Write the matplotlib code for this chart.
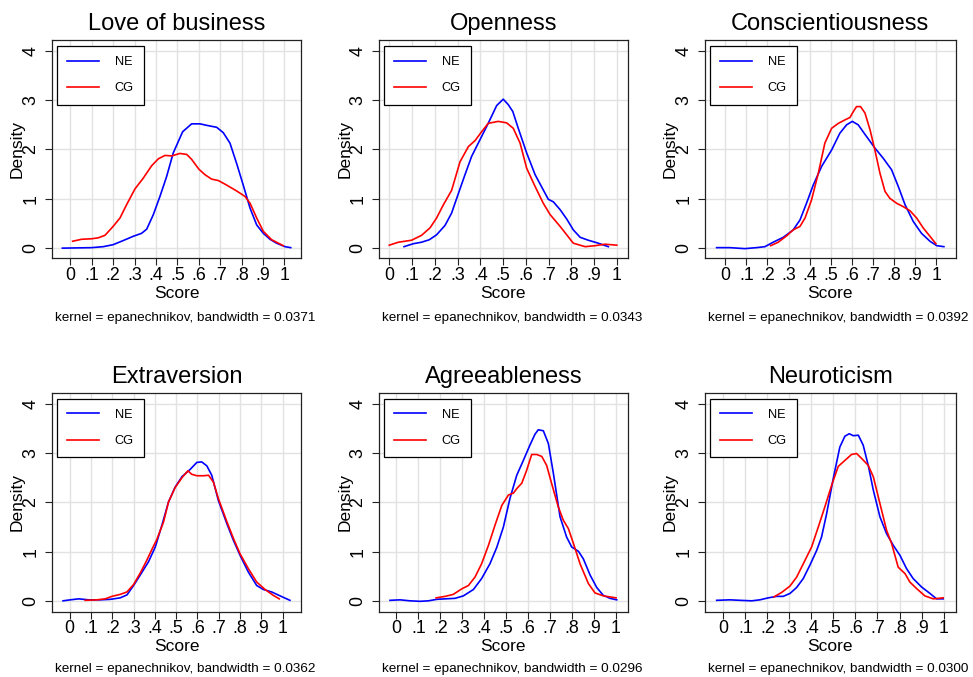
import matplotlib
matplotlib.use("Agg")
import matplotlib.pyplot as plt

plt.rcParams['font.family'] = ['Liberation Sans', 'DejaVu Sans']

# ---- data: kernel density estimates of scores by group ----
titles = ["Love of business", "Openness", "Conscientiousness",
          "Extraversion", "Agreeableness", "Neuroticism"]
bandwidths = ["0.0371", "0.0343", "0.0392", "0.0362", "0.0296", "0.0300"]
groups = ["NE", "CG"]
x_tick_values = [0, .1, .2, .3, .4, .5, .6, .7, .8, .9, 1]
x_tick_labels = ["0", ".1", ".2", ".3", ".4", ".5", ".6", ".7", ".8", ".9", "1"]
y_tick_values = [0, 1, 2, 3, 4]

love_ne_x = [-0.037, 0.1, 0.154, 0.2, 0.248, 0.294, 0.333, 0.357, 0.388, 0.419, 0.45, 0.481,
             0.525, 0.567, 0.606, 0.637, 0.684, 0.715, 0.746, 0.777, 0.808, 0.84, 0.871,
             0.902, 0.933, 0.964, 1.003, 1.03]
love_ne_y = [0.0, 0.01, 0.03, 0.07, 0.155, 0.24, 0.30, 0.385, 0.68, 1.05, 1.45, 1.93,
             2.36, 2.52, 2.52, 2.49, 2.45, 2.34, 2.13, 1.72, 1.28, 0.81, 0.47,
             0.30, 0.18, 0.10, 0.03, 0.01]
love_cg_x = [0.011, 0.053, 0.1, 0.131, 0.162, 0.2, 0.232, 0.263, 0.302, 0.341, 0.38, 0.411,
             0.442, 0.474, 0.512, 0.544, 0.567, 0.601, 0.629, 0.66, 0.692, 0.73, 0.777,
             0.816, 0.84, 0.871, 0.902, 0.941, 0.995]
love_cg_y = [0.14, 0.18, 0.19, 0.21, 0.26, 0.44, 0.61, 0.88, 1.2, 1.42, 1.67, 1.81,
             1.88, 1.87, 1.92, 1.90, 1.80, 1.60, 1.49, 1.40, 1.37, 1.28, 1.16,
             1.05, 0.91, 0.61, 0.34, 0.17, 0.05]

open_ne_x = [0.065, 0.106, 0.142, 0.176, 0.208, 0.245, 0.274, 0.304, 0.333, 0.362, 0.399,
             0.435, 0.472, 0.501, 0.523, 0.543, 0.567, 0.604, 0.641, 0.677, 0.699, 0.721,
             0.751, 0.78, 0.809, 0.839, 0.875, 0.912, 0.963]
open_ne_y = [0.03, 0.09, 0.12, 0.17, 0.27, 0.46, 0.71, 1.11, 1.49, 1.86, 2.2,
             2.53, 2.89, 3.02, 2.91, 2.77, 2.43, 1.93, 1.49, 1.18, 0.99, 0.94,
             0.78, 0.59, 0.37, 0.22, 0.16, 0.11, 0.03]
open_cg_x = [0.0, 0.04, 0.098, 0.142, 0.179, 0.208, 0.238, 0.274, 0.311, 0.348, 0.377,
             0.406, 0.435, 0.479, 0.516, 0.545, 0.575, 0.604, 0.641, 0.677, 0.707, 0.751,
             0.78, 0.809, 0.861, 0.905, 0.949, 1.0]
open_cg_y = [0.06, 0.12, 0.16, 0.26, 0.41, 0.61, 0.88, 1.17, 1.75, 2.06, 2.18,
             2.36, 2.53, 2.57, 2.54, 2.43, 2.13, 1.62, 1.25, 0.91, 0.68, 0.44,
             0.27, 0.10, 0.03, 0.05, 0.08, 0.06]

consc_ne_x = [-0.041, 0.022, 0.093, 0.148, 0.188, 0.227, 0.275, 0.322, 0.354, 0.385, 0.417,
              0.457, 0.504, 0.543, 0.575, 0.602, 0.63, 0.67, 0.709, 0.749, 0.788, 0.82,
              0.852, 0.891, 0.93, 0.97, 1.002, 1.036]
consc_ne_y = [0.01, 0.01, -0.01, 0.01, 0.03, 0.12, 0.22, 0.37, 0.57, 0.91, 1.28,
              1.66, 1.99, 2.33, 2.5, 2.57, 2.5, 2.26, 2.03, 1.82, 1.59, 1.25,
              0.88, 0.54, 0.30, 0.14, 0.05, 0.03]
consc_cg_x = [0.215, 0.251, 0.291, 0.322, 0.354, 0.378, 0.409, 0.441, 0.472, 0.504, 0.536,
              0.567, 0.591, 0.607, 0.622, 0.641, 0.662, 0.686, 0.709, 0.733, 0.757, 0.78,
              0.812, 0.844, 0.875, 0.907, 0.938, 0.97, 0.998]
consc_cg_y = [0.05, 0.12, 0.25, 0.37, 0.44, 0.61, 0.98, 1.52, 2.13, 2.43, 2.53,
              2.6, 2.65, 2.77, 2.87, 2.87, 2.74, 2.4, 1.99, 1.52, 1.15, 1.01,
              0.91, 0.84, 0.76, 0.61, 0.41, 0.24, 0.09]

extra_ne_x = [-0.031, 0.003, 0.042, 0.089, 0.144, 0.191, 0.237, 0.269, 0.3, 0.331, 0.37,
              0.402, 0.433, 0.464, 0.495, 0.527, 0.566, 0.597, 0.62, 0.644, 0.667, 0.698,
              0.738, 0.769, 0.8, 0.839, 0.878, 0.909, 0.948, 0.988, 1.034]
extra_ne_y = [0.01, 0.03, 0.05, 0.03, 0.03, 0.04, 0.07, 0.13, 0.32, 0.53, 0.8,
              1.1, 1.54, 2.01, 2.31, 2.52, 2.67, 2.81, 2.82, 2.74, 2.55, 2.04,
              1.57, 1.23, 0.93, 0.59, 0.32, 0.24, 0.19, 0.11, 0.02]
extra_cg_x = [0.073, 0.128, 0.167, 0.198, 0.237, 0.269, 0.3, 0.331, 0.362, 0.386, 0.409,
              0.441, 0.464, 0.495, 0.527, 0.555, 0.573, 0.597, 0.628, 0.652, 0.675, 0.698,
              0.738, 0.769, 0.8, 0.839, 0.878, 0.917, 0.956, 0.984]
extra_cg_y = [0.02, 0.03, 0.05, 0.1, 0.14, 0.19, 0.34, 0.57, 0.83, 1.05, 1.25,
              1.61, 2.01, 2.3, 2.5, 2.64, 2.57, 2.54, 2.54, 2.55, 2.41, 2.08,
              1.61, 1.27, 0.96, 0.66, 0.39, 0.24, 0.12, 0.05]

agree_ne_x = [-0.029, 0.017, 0.062, 0.108, 0.146, 0.184, 0.222, 0.267, 0.305, 0.351, 0.388,
              0.426, 0.457, 0.487, 0.517, 0.548, 0.578, 0.608, 0.631, 0.646, 0.669, 0.692,
              0.715, 0.745, 0.775, 0.798, 0.829, 0.851, 0.882, 0.912, 0.942, 0.973, 1.003]
agree_ne_y = [0.02, 0.03, 0.01, 0.0, 0.01, 0.04, 0.05, 0.06, 0.11, 0.24, 0.46,
              0.76, 1.09, 1.5, 2.08, 2.55, 2.85, 3.16, 3.38, 3.47, 3.45, 3.19,
              2.58, 1.71, 1.30, 1.1, 1.01, 0.86, 0.53, 0.28, 0.12, 0.06, 0.03]
agree_cg_x = [0.181, 0.222, 0.259, 0.297, 0.328, 0.358, 0.388, 0.419, 0.449, 0.48, 0.51,
              0.533, 0.548, 0.571, 0.593, 0.616, 0.639, 0.662, 0.684, 0.707, 0.737, 0.76,
              0.783, 0.806, 0.836, 0.874, 0.904, 0.942, 1.0]
agree_cg_y = [0.07, 0.1, 0.14, 0.25, 0.32, 0.49, 0.76, 1.13, 1.54, 1.94, 2.15,
              2.19, 2.28, 2.39, 2.65, 2.97, 2.97, 2.93, 2.75, 2.38, 1.91, 1.64,
              1.47, 1.17, 0.76, 0.36, 0.17, 0.11, 0.07]

neuro_ne_x = [-0.03, 0.03, 0.076, 0.129, 0.166, 0.204, 0.242, 0.272, 0.303, 0.333, 0.363,
              0.393, 0.424, 0.446, 0.469, 0.499, 0.529, 0.552, 0.572, 0.59, 0.613, 0.635,
              0.658, 0.681, 0.711, 0.741, 0.772, 0.802, 0.832, 0.862, 0.9, 0.938, 0.968, 0.998]
neuro_ne_y = [0.02, 0.03, 0.02, 0.01, 0.03, 0.07, 0.1, 0.1, 0.16, 0.28, 0.46,
              0.73, 1.03, 1.3, 1.77, 2.48, 3.12, 3.34, 3.39, 3.35, 3.36, 3.16,
              2.75, 2.25, 1.71, 1.37, 1.13, 0.93, 0.66, 0.46, 0.29, 0.16, 0.05, 0.05]
neuro_cg_x = [0.23, 0.265, 0.303, 0.333, 0.371, 0.401, 0.431, 0.461, 0.492, 0.522, 0.552,
              0.582, 0.605, 0.628, 0.658, 0.681, 0.711, 0.741, 0.764, 0.794, 0.825, 0.847,
              0.877, 0.915, 0.953, 0.998]
neuro_cg_y = [0.09, 0.18, 0.31, 0.49, 0.83, 1.1, 1.5, 1.91, 2.35, 2.73, 2.85,
              2.97, 2.99, 2.89, 2.75, 2.52, 1.98, 1.44, 1.17, 0.69, 0.56, 0.39,
              0.26, 0.11, 0.05, 0.07]

curves = [
    ((love_ne_x, love_ne_y), (love_cg_x, love_cg_y)),
    ((open_ne_x, open_ne_y), (open_cg_x, open_cg_y)),
    ((consc_ne_x, consc_ne_y), (consc_cg_x, consc_cg_y)),
    ((extra_ne_x, extra_ne_y), (extra_cg_x, extra_cg_y)),
    ((agree_ne_x, agree_ne_y), (agree_cg_x, agree_cg_y)),
    ((neuro_ne_x, neuro_ne_y), (neuro_cg_x, neuro_cg_y)),
]
x_limits = [(-0.0855, 1.078), (-0.045, 1.048), (-0.096, 1.092),
            (-0.083, 1.086), (-0.079, 1.053), (-0.083, 1.055)]

# ---- layout (pixel boxes of each plot region) ----
W, H = 973, 677
col_px = [(52, 301), (379, 627.7), (705, 955.7)]
row_px = [(40, 258.5), (392.7, 611.7)]
note_drop_px = [63, 60]          # note baseline below the plot region, per row
line_colors = ["#0000ff", "#ff0000"]
grid_color = "#e2e2e2"

fig = plt.figure(figsize=(W / 100, H / 100), dpi=100)
fig.patch.set_facecolor("white")

for i in range(6):
    r, c = divmod(i, 3)
    l, rt = col_px[c]
    t, b = row_px[r]
    ax = fig.add_axes([l / W, 1 - b / H, (rt - l) / W, (b - t) / H])
    ax.set_xlim(*x_limits[i])
    ax.set_ylim(-0.21, 4.22)

    ax.set_xticks(x_tick_values)
    ax.set_xticklabels(x_tick_labels)
    ax.set_yticks(y_tick_values)
    ax.set_yticklabels([str(v) for v in y_tick_values], rotation=90, va="center")
    ax.tick_params(axis="both", direction="out", length=5, width=0.8,
                   color="#222222", labelsize=12.8, labelcolor="black")
    ax.tick_params(axis="x", pad=1.0)
    ax.tick_params(axis="y", pad=4.2)
    ax.grid(True, color=grid_color, linewidth=1.0)
    ax.set_axisbelow(True)
    for sp in ax.spines.values():
        sp.set_color("#222222")
        sp.set_linewidth(0.9)

    handles = []
    for g, (xs, ys), col in zip(groups, curves[i], line_colors):
        h, = ax.plot(xs, ys, color=col, linewidth=1.2, label=g,
                     solid_joinstyle="round")
        handles.append(h)

    leg = ax.legend(handles=handles, loc="upper left",
                    bbox_to_anchor=(0.021, 0.9725), borderaxespad=0,
                    fontsize=9.2, frameon=True, fancybox=False, framealpha=1,
                    edgecolor="black", handlelength=2.5, handletextpad=1.2,
                    labelspacing=1.1, borderpad=0.8)
    leg.get_frame().set_linewidth(0.9)

    ax.set_title(titles[i], fontsize=17, pad=7.2)
    ax.set_xlabel("Score", fontsize=12.5)
    ax.xaxis.set_label_coords(0.5, -0.125)
    ax.xaxis.label.set_va("top")
    ax.set_ylabel("Density", fontsize=12.5)
    ax.yaxis.set_label_coords(-0.108, 0.5)

    ax.text(0.012, -note_drop_px[r] / (b - t),
            f"kernel = epanechnikov, bandwidth = {bandwidths[i]}",
            transform=ax.transAxes, fontsize=9.7, ha="left", va="baseline")

fig.savefig("out.png", dpi=100, facecolor="white")
